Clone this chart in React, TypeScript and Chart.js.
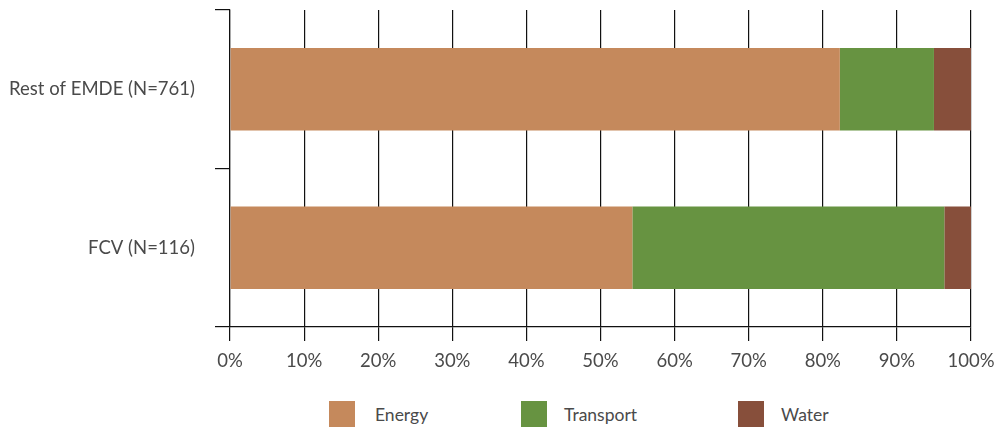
import React, { useEffect, useRef } from "react";
import { Chart, registerables } from "chart.js";

Chart.register(...registerables);

const categories = ["Rest of EMDE (N=761)", "FCV (N=116)"];
const energy = [82.3, 54.3];
const transport = [12.7, 42.1];
const water = [5.0, 3.6];
const xTicks = [0, 10, 20, 30, 40, 50, 60, 70, 80, 90, 100];

const seriesNames = ["Energy", "Transport", "Water"];
const seriesColors = ["#C5895C", "#679341", "#874F3B"];

const FONT = "Lato, 'Open Sans', sans-serif";
const TEXT = "#4a4a4a";
const LINE = "#111111";

export default function App() {
  const ref = useRef<HTMLCanvasElement | null>(null);

  useEffect(() => {
    if (!ref.current) return;
    const values = [energy, transport, water];
    const chart = new Chart(ref.current, {
      type: "bar",
      data: {
        labels: categories,
        datasets: seriesNames.map((name, i) => ({
          label: name,
          data: values[i],
          backgroundColor: seriesColors[i],
          borderWidth: 0,
          barPercentage: 0.52,
          categoryPercentage: 1,
        })),
      },
      options: {
        indexAxis: "y",
        animation: false,
        responsive: false,
        devicePixelRatio: 1,
        layout: { padding: { top: 10, right: 33, left: 0, bottom: 0 } },
        plugins: {
          legend: { display: false },
          tooltip: { enabled: false },
        },
        scales: {
          x: {
            stacked: true,
            min: 0,
            max: 100,
            afterBuildTicks: (scale: any) => {
              scale.ticks = xTicks.map((v) => ({ value: v }));
            },
            afterFit: (scale: any) => {
              scale.height = 53;
              scale.paddingLeft = 0;
              scale.paddingRight = 0;
            },
            ticks: {
              callback: (v: any) => v + "%",
              color: TEXT,
              font: { family: FONT, size: 18.5 },
              padding: 9,
              maxRotation: 0,
              autoSkip: false,
            },
            grid: {
              color: LINE,
              lineWidth: 1.2,
              tickLength: 14,
              drawTicks: true,
            },
            border: { display: true, color: LINE, width: 1.2 },
          },
          y: {
            stacked: true,
            afterFit: (scale: any) => {
              scale.width = 230;
              scale.paddingTop = 0;
              scale.paddingBottom = 0;
            },
            ticks: {
              color: TEXT,
              font: { family: FONT, size: 18.5 },
              padding: 20,
            },
            grid: {
              offset: true,
              drawOnChartArea: false,
              drawTicks: true,
              tickLength: 15,
              color: LINE,
              lineWidth: 1.2,
            },
            border: { display: true, color: LINE, width: 1.2 },
          },
        },
      },
    });
    return () => chart.destroy();
  }, []);

  const legendLeft = [329, 521, 738];
  const legendGap = [20, 17, 17];

  return (
    <div
      style={{
        position: "fixed",
        left: 0,
        top: 0,
        width: 1004,
        height: 427,
        background: "#ffffff",
        overflow: "hidden",
      }}
    >
      <canvas ref={ref} width={1004} height={380} style={{ display: "block" }} />
      {seriesNames.map((name, i) => (
        <div
          key={name}
          style={{
            position: "absolute",
            left: legendLeft[i],
            top: 401,
            height: 26,
            display: "flex",
            alignItems: "center",
            fontFamily: FONT,
            fontSize: 17.5,
            color: TEXT,
            whiteSpace: "nowrap",
          }}
        >
          <span
            style={{
              display: "inline-block",
              width: 26,
              height: 26,
              background: seriesColors[i],
              marginRight: legendGap[i],
            }}
          />
          <span>{name}</span>
        </div>
      ))}
    </div>
  );
}
